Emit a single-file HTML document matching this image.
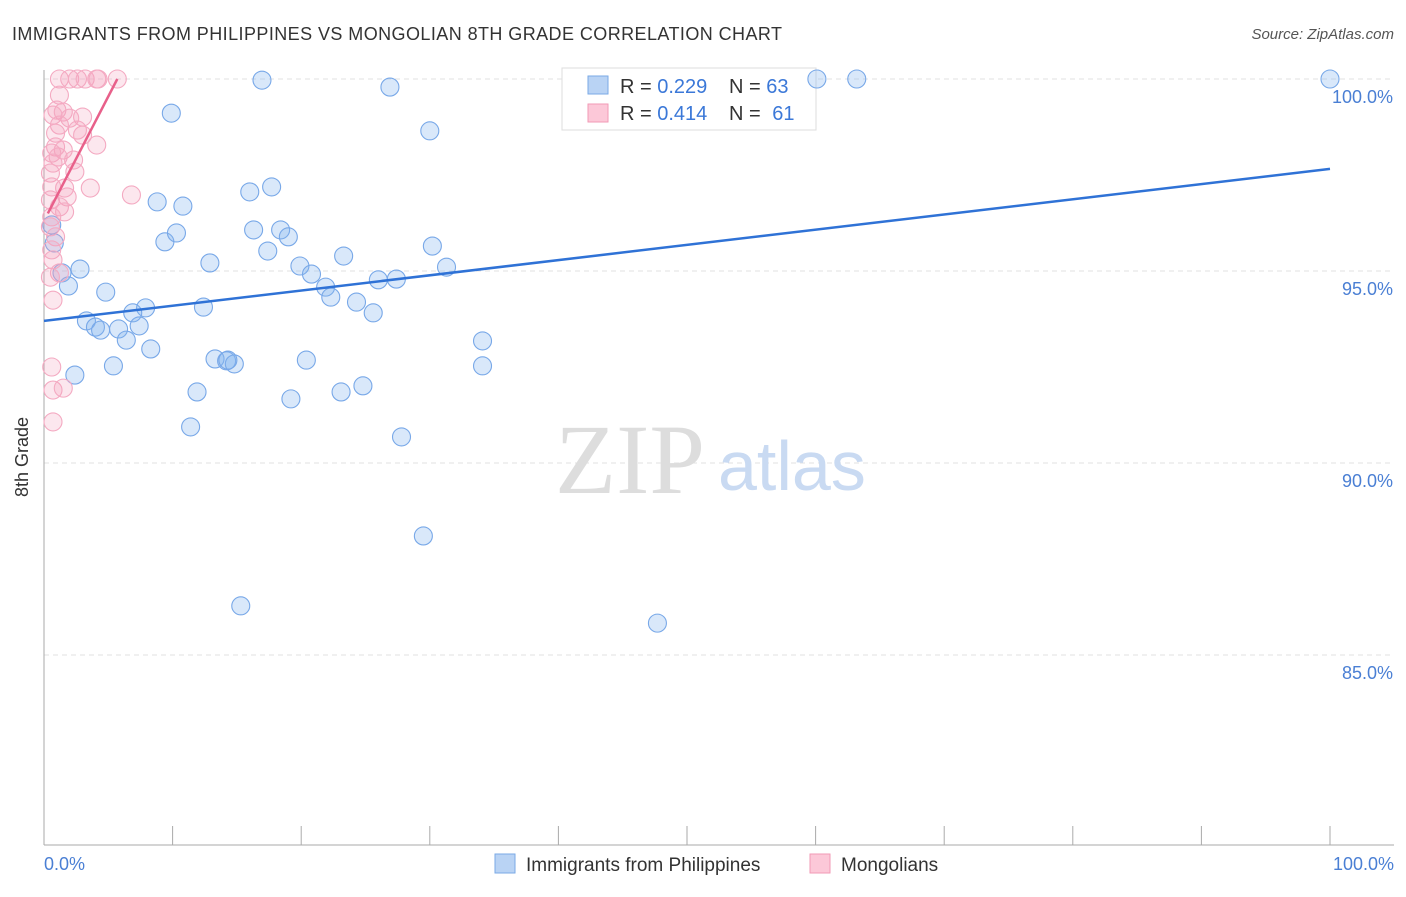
<!DOCTYPE html>
<html><head><meta charset="utf-8"><style>
body{margin:0;background:#fff;font-family:"Liberation Sans",sans-serif}
</style></head><body>
<svg width="1406" height="892" viewBox="0 0 1406 892" xmlns="http://www.w3.org/2000/svg">
<text x="12" y="40" font-size="18" fill="#333" textLength="770">IMMIGRANTS FROM PHILIPPINES VS MONGOLIAN 8TH GRADE CORRELATION CHART</text>
<text x="1394" y="39" font-size="15" fill="#555" font-style="italic" text-anchor="end">Source: ZipAtlas.com</text>
<g id="grid"></g>
<text x="555" y="493" font-size="100" fill="#ddd" font-family="Liberation Serif,serif">ZIP</text>
<text x="718" y="490" font-size="70" fill="#c9daf2">atlas</text>
<line x1="44" y1="70" x2="44" y2="845" stroke="#aaa"/>
<line x1="44" y1="845" x2="1394" y2="845" stroke="#aaa"/>
<g id="ticks"></g>
<g>
<rect x="562" y="68" width="254" height="62" fill="#fff" stroke="#ddd"/>
<rect x="588" y="76" width="20" height="18" fill="#b9d3f4" stroke="#7aaae6"/>
<text x="620" y="93" font-size="20" fill="#333">R = <tspan fill="#3b78d8">0.229</tspan></text>
<text x="729" y="93" font-size="20" fill="#333">N = <tspan fill="#3b78d8">63</tspan></text>
<rect x="588" y="104" width="20" height="18" fill="#fcc8d8" stroke="#f29ab6"/>
<text x="620" y="120" font-size="20" fill="#333">R = <tspan fill="#3b78d8">0.414</tspan></text>
<text x="729" y="120" font-size="20" fill="#333">N = <tspan fill="#3b78d8" dx="6">61</tspan></text>
</g>
<g id="pts"></g>
<g id="lines"></g>
<text x="28" y="457" font-size="18" fill="#333" transform="rotate(-90 28 457)" text-anchor="middle">8th Grade</text>
<text x="44" y="870" font-size="18" fill="#4a7fd4">0.0%</text>
<text x="1394" y="870" font-size="18" fill="#4a7fd4" text-anchor="end">100.0%</text>
<g>
<rect x="495" y="854" width="20" height="19" fill="#b9d3f4" stroke="#7aaae6"/>
<text x="526" y="871" font-size="19" fill="#333">Immigrants from Philippines</text></g>
<g>
<rect x="810" y="854" width="20" height="19" fill="#fcc8d8" stroke="#f29ab6"/>
<text x="841" y="871" font-size="19" fill="#333">Mongolians</text></g>
</svg>
<script>
const yTicks=[100,95,90,85];
const blueX=[16.95,26.9,60.1,63.2,100,9.9,30.0,8.8,10.8,16.0,17.7,0.6,0.8,9.4,10.3,16.3,18.4,19.0,17.4,30.2,12.9,19.9,23.3,2.8,1.4,20.8,1.9,4.8,21.9,22.3,26.0,27.4,31.3,7.9,6.9,12.4,24.3,25.6,3.3,4.0,4.4,5.8,7.4,6.4,8.3,34.1,5.4,2.4,13.3,14.2,14.8,20.4,34.1,11.9,19.2,23.1,24.8,11.4,27.8,29.5,15.3,47.7,14.3];
const blueY=[99.97,99.79,100,100,100,99.11,98.65,96.80,96.69,97.06,97.19,96.20,95.73,95.76,95.99,96.07,96.07,95.89,95.52,95.65,95.21,95.13,95.39,95.05,94.95,94.92,94.61,94.45,94.58,94.32,94.77,94.79,95.10,94.04,93.91,94.06,94.19,93.91,93.70,93.54,93.46,93.49,93.57,93.20,92.97,93.18,92.53,92.29,92.71,92.66,92.58,92.68,92.53,91.85,91.67,91.85,92.01,90.94,90.68,88.10,86.28,85.83,92.68];
const pinkX=[1.2,2.0,2.6,3.2,4.1,4.2,5.7,1.2,1.0,1.5,0.7,3.0,2.0,1.2,2.6,0.9,3.0,4.1,0.9,1.5,0.6,1.1,2.3,0.7,2.4,0.5,1.6,3.6,0.6,6.8,1.8,0.5,1.2,1.6,0.6,0.5,0.9,0.6,0.7,1.2,0.5,0.7,0.6,0.7,1.5,0.7];
const pinkY=[100,100,100,100,100,100,100,99.58,99.19,99.14,99.06,99.01,98.98,98.80,98.67,98.59,98.54,98.28,98.23,98.15,98.07,97.97,97.89,97.81,97.58,97.55,97.16,97.16,97.19,96.98,96.93,96.85,96.67,96.54,96.41,96.15,95.89,95.55,95.29,94.95,94.84,94.24,92.50,91.90,91.95,91.07];
const blueTrend=[[0,93.70],[100,97.66]];
const pinkTrend=[[0.3,96.5],[5.7,100]];
const sx=v=>44+v*12.86, sy=v=>79+(100-v)*38.4;
const NS='http://www.w3.org/2000/svg';
function mk(t,a,p){const e=document.createElementNS(NS,t);for(const k in a)e.setAttribute(k,a[k]);document.getElementById(p).appendChild(e);return e;}
yTicks.forEach(t=>{
 const l=mk('line',{x1:44,x2:1394,y1:sy(t),y2:sy(t),stroke:'#e2e2e2','stroke-dasharray':'5,4'},'grid');
 
 
 const tx=mk('text',{x:1393,y:sy(t)+24,'font-size':18,fill:'#4a7fd4','text-anchor':'end'},'grid');
 tx.textContent=t.toFixed(1)+'%';
 
 
});
for(let i=0;i<=10;i++){const l=mk('line',{x1:sx(i*10),x2:sx(i*10),y1:826,y2:845,stroke:'#aaa'},'ticks');
 
 }
blueX.forEach((x,i)=>{const c=mk('circle',{cx:sx(x),cy:sy(blueY[i]),r:9,fill:'rgba(130,178,238,0.3)',stroke:'#78a8e8','stroke-width':1.1},'pts');
 
 });
pinkX.forEach((x,i)=>{const c=mk('circle',{cx:sx(x),cy:sy(pinkY[i]),r:9,fill:'rgba(245,160,188,0.25)',stroke:'#f4aac2','stroke-width':1.1},'pts');
 
 });
const b=mk('line',{x1:sx(blueTrend[0][0]),y1:sy(blueTrend[0][1]),x2:sx(blueTrend[1][0]),y2:sy(blueTrend[1][1]),stroke:'#2f72d6','stroke-width':2.5},'lines');


const p=mk('line',{x1:sx(pinkTrend[0][0]),y1:sy(pinkTrend[0][1]),x2:sx(pinkTrend[1][0]),y2:sy(pinkTrend[1][1]),stroke:'#e8608a','stroke-width':2.5},'lines');


</script>
</body></html>
